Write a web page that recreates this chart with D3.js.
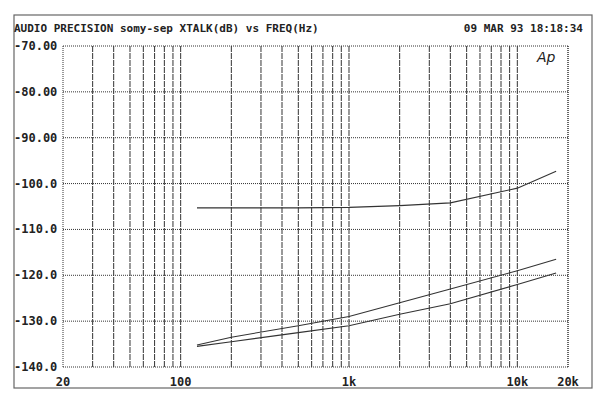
<!DOCTYPE html>
<html><head><meta charset="utf-8">
<script src="https://cdn.jsdelivr.net/npm/d3@7"></script>
<style>
body{margin:0;background:#fff}
text{font-family:"DejaVu Sans Mono",monospace;font-weight:bold;fill:#222}
</style></head><body>
<svg id="c" width="600" height="402"></svg>
<script>
var freqTicks = [20, 100, 1000, 10000, 20000];
var freqLabels = ["20", "100", "1k", "10k", "20k"];
var dbTicks = [-70, -80, -90, -100, -110, -120, -130, -140];
var dbLabels = ["-70.00", "-80.00", "-90.00", "-100.0", "-110.0", "-120.0", "-130.0", "-140.0"];
var freqs = [125, 200, 500, 1000, 2000, 4000, 10000, 17000];
var seriesA = [-105.3, -105.3, -105.3, -105.2, -104.8, -104.2, -101, -97.3];
var seriesB = [-135.2, -133.5, -131, -129, -126, -123, -119, -116.5];
var seriesC = [-135.5, -134.5, -132.5, -131, -128.5, -126.2, -122, -119.5];

var svg = d3.select("#c");
var x = d3.scaleLog().domain([20, 20000]).range([63, 568]);
var y = d3.scaleLinear().domain([-140, -70]).range([367, 46]);

svg.append("rect").attr("x", 14).attr("y", 15).attr("width", 578).attr("height", 373)
    .attr("fill", "none").attr("stroke", "#666").attr("stroke-width", 1.2);

svg.append("text").attr("x", 14).attr("y", 32).attr("font-size", 11).text("AUDIO PRECISION somy-sep XTALK(dB) vs FREQ(Hz)");
svg.append("text").attr("x", 583).attr("y", 32).attr("font-size", 11).attr("text-anchor", "end").text("09 MAR 93 18:18:34");

// vertical grid: every decade subdivision
var vgrid = [];
[10, 100, 1000, 10000].forEach(function (dec) {
    for (var k = 1; k <= 9; k++) {
        var f = dec * k;
        if (f >= 20 && f <= 20000) vgrid.push(f);
    }
});
vgrid.push(20000);
svg.append("g").selectAll("line").data(vgrid).enter().append("line")
    .attr("x1", function (d) { return x(d); }).attr("x2", function (d) { return x(d); })
    .attr("y1", y(-70)).attr("y2", y(-140))
    .attr("stroke", "#333").attr("stroke-width", 1)
    .attr("stroke-dasharray", function (d) { return (d === 20 || d === 20000) ? "1,1" : "6,1"; });

svg.append("g").selectAll("line").data(dbTicks).enter().append("line")
    .attr("x1", x(20)).attr("x2", x(20000))
    .attr("y1", function (d) { return y(d); }).attr("y2", function (d) { return y(d); })
    .attr("stroke", "#333").attr("stroke-width", 1).attr("stroke-dasharray", "1,1");

svg.append("g").selectAll("text").data(dbTicks).enter().append("text")
    .attr("x", 14).attr("y", function (d) { return y(d) + 4; })
    .attr("font-size", 12).text(function (d, i) { return dbLabels[i]; });

svg.append("g").selectAll("text").data(freqTicks).enter().append("text")
    .attr("x", function (d) { return x(d); }).attr("y", 386)
    .attr("text-anchor", "middle").attr("font-size", 12)
    .text(function (d, i) { return freqLabels[i]; });

svg.append("text").attr("x", 537).attr("y", 62).attr("font-size", 14)
    .style("font-family", "DejaVu Sans").style("font-style", "italic").style("font-weight", "normal").text("Ap");

var line = d3.line().x(function (d) { return x(d[0]); }).y(function (d) { return y(d[1]); });
[seriesA, seriesB, seriesC].forEach(function (s) {
    svg.append("path").datum(d3.zip(freqs, s)).attr("d", line)
        .attr("fill", "none").attr("stroke", "#333").attr("stroke-width", 1.1);
});
</script>
</body></html>
